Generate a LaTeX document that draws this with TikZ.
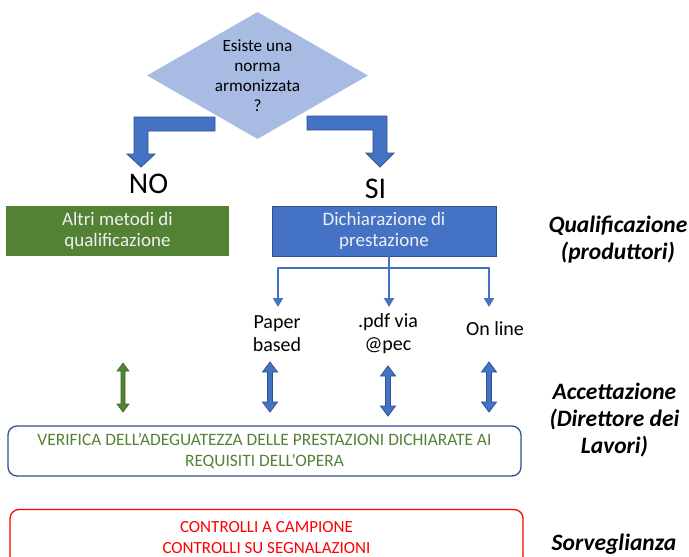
\documentclass[tikz,border=0pt]{standalone}
\usepackage{fontspec}
\setmainfont{Carlito}
\usetikzlibrary{shapes.geometric,arrows.meta}
\definecolor{diafill}{RGB}{168,187,227}
\definecolor{bblue}{HTML}{4472C4}
\definecolor{dblue}{HTML}{2F528F}
\definecolor{bgreen}{HTML}{548235}
\definecolor{dgreen}{HTML}{3E6427}
\definecolor{ltext}{HTML}{EEF0F4}
\definecolor{pred}{HTML}{FF0000}
\tikzset{
  qtext/.style={align=center, inner sep=0pt, font=\fontsize{17.2}{20}\selectfont},
  boxtext/.style={align=center, inner sep=0pt, text=ltext, font=\fontsize{19}{21.5}\selectfont},
  greenbox/.style={fill=bgreen, minimum width=223pt, minimum height=50pt, inner sep=0pt},
  bluebox/.style={fill=bblue, draw=dblue, line width=0.8pt, minimum width=224pt, minimum height=50pt, inner sep=0pt},
  etich/.style={align=center, inner sep=0pt, font=\fontsize{20}{23}\selectfont},
  sidelab/.style={align=center, inner sep=0pt, font=\bfseries\itshape\fontsize{23.5}{27}\selectfont},
  bignum/.style={inner sep=0pt, anchor=base, font=\fontsize{30}{32}\selectfont},
  bentarr/.style={fill=bblue, draw=dblue, line width=0.8pt},
  conn/.style={draw=bblue, line width=2pt, -{Triangle[width=10pt,length=9pt]}},
  connline/.style={draw=bblue, line width=2pt, line cap=round},
  verifbox/.style={draw=dblue, line width=1.3pt, rounded corners=9pt, minimum width=513pt, minimum height=50pt, align=center, text=bgreen, font=\fontsize{17.4}{21}\selectfont},
  ctrlbox/.style={draw=pred, line width=1.3pt, rounded corners=9pt, minimum width=513pt, minimum height=56pt, align=center, text=pred, font=\fontsize{17}{21}\selectfont},
  dblarr/.pic={\path[pic actions] (0,0) -- (7.5,10) -- (2.5,10) -- (2.5,40) -- (7.5,40) -- (0,50) -- (-7.5,40) -- (-2.5,40) -- (-2.5,10) -- (-7.5,10) -- cycle;},
  dblarrg/.pic={\path[pic actions] (0,0) -- (6,8) -- (2,8) -- (2,41) -- (6,41) -- (0,49) -- (-6,41) -- (-2,41) -- (-2,8) -- (-6,8) -- cycle;}
}
\begin{document}
\begin{tikzpicture}[x=1pt,y=-1pt]
\useasboundingbox (0,0) rectangle (689,557);
% bent arrows (behind the diamond)
\path[bentarr] (215,117) -- (134,117) -- (134,154) -- (127,154) -- (141,167) -- (155,154) -- (148,154) -- (148,131) -- (215,131) -- cycle;
\path[bentarr] (307,116) -- (387,116) -- (387,153) -- (394,153) -- (380,167) -- (366,153) -- (373,153) -- (373,130) -- (307,130) -- cycle;
% diamond
\node[diamond, fill=diafill, minimum width=221pt, minimum height=127pt, inner sep=0pt] (q) at (257.5,75.5) {};
\node[qtext] (qt) at (257.5,75.5) {Esiste una\\norma\\armonizzata\\?};
% NO / SI
\node[bignum] (no) at (148.5,193.5) {NO};
\node[bignum] (si) at (375.5,198.5) {SI};
% boxes
\node[greenbox] (altri) at (117.5,231) {};
\node[boxtext] (altrit) at (117.5,231) {Altri metodi di\\qualificazione};
\node[bluebox] (dich) at (384,231) {};
\node[boxtext] (dicht) at (384,231) {Dichiarazione di\\prestazione};
% branches
\coordinate (bl) at (278,268);
\coordinate (bm) at (389,268);
\coordinate (br) at (489,268);
\coordinate (e1) at (278,307);
\coordinate (e2) at (389,307);
\coordinate (e3) at (489,307);
\draw[connline] (bl) -- (br);
\draw[conn] (dich.south -| e2) -- (e2);
\draw[conn] (bl) -- (e1);
\draw[conn] (br) -- (e3);
\node[etich] (paper) at (277,333.5) {Paper\\based};
\node[etich] (pdf) at (388,333.5) {.pdf via\\@pec};
\node[etich] (online) at (495,329) {On line};
% double arrows
\pic[fill=bgreen, draw=dgreen, line width=0.6pt] at (123,363) {dblarrg};
\pic[fill=bblue, draw=dblue, line width=0.8pt] at (270,362) {dblarr};
\pic[fill=bblue, draw=dblue, line width=0.8pt] at (388,366) {dblarr};
\pic[fill=bblue, draw=dblue, line width=0.8pt] at (489,362) {dblarr};
% lower boxes
\node[verifbox] (verif) at (264.5,451) {VERIFICA DELL’ADEGUATEZZA DELLE PRESTAZIONI DICHIARATE AI\\REQUISITI DELL’OPERA};
\node[ctrlbox] (ctrl) at (266.5,537.5) {CONTROLLI A CAMPIONE\\CONTROLLI SU SEGNALAZIONI};
% side labels
\node[sidelab] (qual) at (618,240) {Qualificazione\\(produttori)};
\node[sidelab] (acc) at (614.5,420) {Accettazione\\(Direttore dei\\Lavori)};
\node[sidelab] (sorv) at (614,544) {Sorveglianza};
\end{tikzpicture}
\end{document}
